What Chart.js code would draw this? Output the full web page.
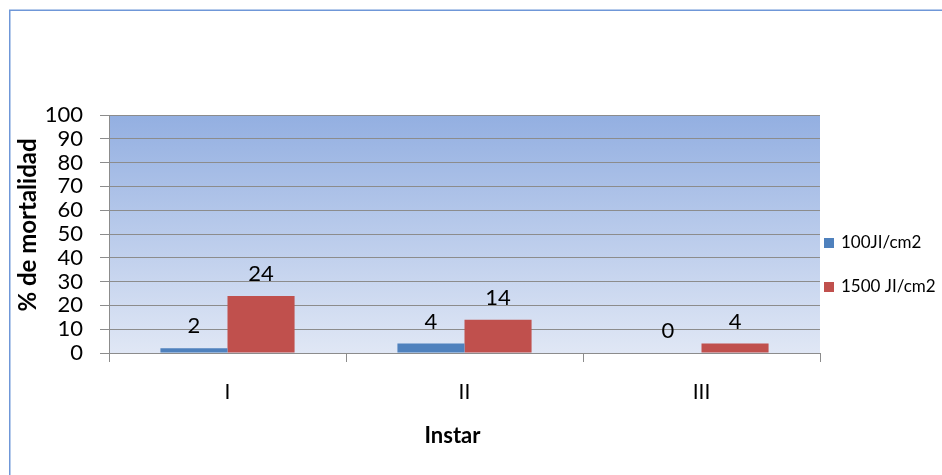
<!DOCTYPE html>
<html>
<head>
<meta charset="utf-8">
<script src="https://cdn.jsdelivr.net/npm/chart.js@4.4.1/dist/chart.umd.min.js"></script>
<style>
html,body{margin:0;padding:0;background:#fff;}
#wrap{position:relative;width:942px;height:475px;overflow:hidden;}
canvas{display:block;}
</style>
</head>
<body>
<div id="wrap"><canvas id="c" width="942" height="475"></canvas></div>
<script>
const categories = ['I', 'II', 'III'];
const seriesNames = ['100JI/cm2', '1500 JI/cm2'];
const values100 = [2, 4, 0];
const values1500 = [24, 14, 4];
const yTicks = [0, 10, 20, 30, 40, 50, 60, 70, 80, 90, 100];
const yTitle = '% de mortalidad';
const xTitle = 'Instar';

const FONT = 'Lato, "Open Sans", sans-serif';

const bgPlugin = {
  id: 'bg',
  beforeDraw(chart) {
    const {ctx, chartArea: a} = chart;
    ctx.save();
    const g = ctx.createLinearGradient(0, a.top, 0, a.bottom);
    g.addColorStop(0, '#93AFE1');
    g.addColorStop(1, '#E0E7F5');
    ctx.fillStyle = g;
    ctx.fillRect(a.left, a.top, a.right - a.left, a.bottom - a.top);
    ctx.strokeStyle = '#6F97D8';
    ctx.lineWidth = 1.5;
    ctx.strokeRect(9.75, 10.25, 1000, 1000);
    ctx.restore();
  }
};

const labelPlugin = {
  id: 'vals',
  afterDatasetsDraw(chart) {
    const {ctx} = chart;
    ctx.save();
    ctx.font = '22px ' + FONT;
    ctx.fillStyle = '#000';
    ctx.textAlign = 'center';
    ctx.textBaseline = 'middle';
    chart.data.datasets.forEach((ds, i) => {
      const meta = chart.getDatasetMeta(i);
      meta.data.forEach((bar, j) => {
        ctx.fillText(String(ds.data[j]), bar.x, bar.y - 22);
      });
    });
    ctx.restore();
  }
};

const textPlugin = {
  id: 'txt',
  afterDraw(chart) {
    const {ctx, chartArea: a} = chart;
    ctx.save();
    // legend
    ctx.font = '17px ' + FONT;
    ctx.textBaseline = 'middle';
    ctx.textAlign = 'left';
    chart.data.datasets.forEach((ds, i) => {
      const y = 243 + i * 44;
      ctx.fillStyle = ds.backgroundColor;
      ctx.fillRect(824, y - 5, 10, 10);
      ctx.fillStyle = '#000';
      ctx.fillText(ds.label, 841, y);
    });
    // axis titles
    ctx.fillStyle = '#000';
    ctx.textAlign = 'center';
    ctx.font = 'bold 22px ' + FONT;
    ctx.fillText(xTitle, (a.left + a.right) / 2 - 12, 436);
    ctx.translate(28, (a.top + a.bottom) / 2 - 9);
    ctx.rotate(-Math.PI / 2);
    ctx.font = 'bold 24px ' + FONT;
    ctx.fillText(yTitle, 0, 0);
    ctx.restore();
  }
};

new Chart(document.getElementById('c'), {
  type: 'bar',
  data: {
    labels: categories,
    datasets: [
      {label: seriesNames[0], data: values100, backgroundColor: '#4F81BD', categoryPercentage: 0.566, barPercentage: 1},
      {label: seriesNames[1], data: values1500, backgroundColor: '#C0504D', categoryPercentage: 0.566, barPercentage: 1}
    ]
  },
  options: {
    responsive: false,
    animation: false,
    layout: {padding: {left: 0, top: 115, right: 122, bottom: 0}},
    plugins: {legend: {display: false}, tooltip: {enabled: false}},
    scales: {
      x: {
        afterFit(s) { s.height = 122; },
        grid: {display: true, drawOnChartArea: false, offset: true, tickLength: 9, color: '#8C8C8C'},
        border: {color: '#8C8C8C'},
        ticks: {color: '#000', font: {family: FONT, size: 21}, padding: 18}
      },
      y: {
        min: 0, max: 100,
        afterFit(s) { s.width = 109; },
        afterBuildTicks(s) { s.ticks = yTicks.map(v => ({value: v})); },
        grid: {color: '#8C8C8C', tickLength: 9},
        border: {color: '#8C8C8C'},
        ticks: {color: '#000', font: {family: FONT, size: 22}, padding: 17, autoSkip: false}
      }
    }
  },
  plugins: [bgPlugin, labelPlugin, textPlugin]
});
</script>
</body>
</html>
